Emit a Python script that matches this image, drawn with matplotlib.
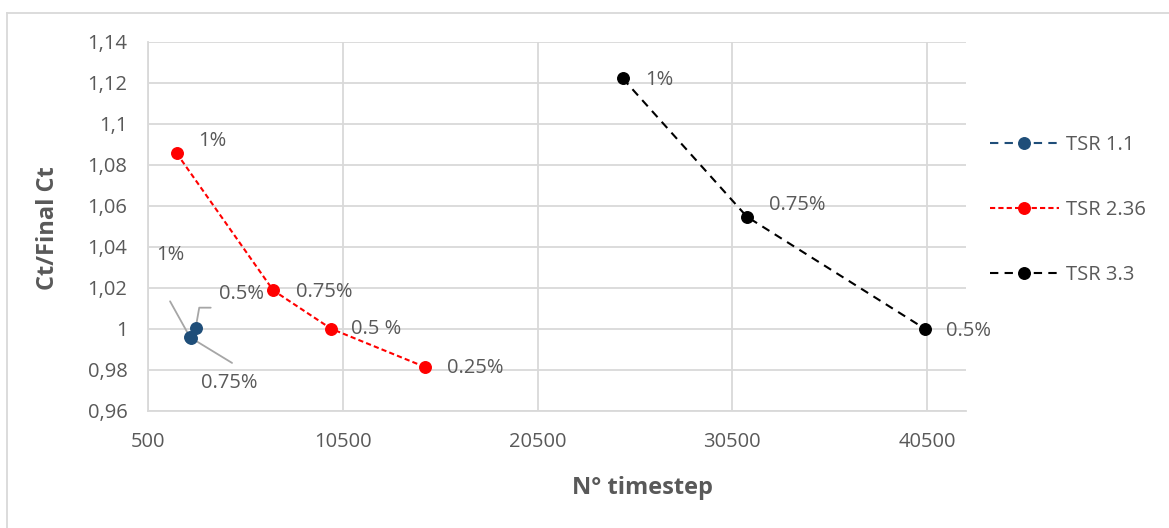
import matplotlib
matplotlib.use("Agg")
import matplotlib.pyplot as plt
from matplotlib.lines import Line2D

# ---- data ----
tsr11_x = [2650, 2700, 2940]
tsr11_y = [0.9958, 0.9955, 1.0005]
tsr11_lbl = ["1%", "0.75%", "0.5%"]

tsr236_x = [1960, 6920, 9890, 14720]
tsr236_y = [1.0856, 1.0187, 1.0, 0.9813]
tsr236_lbl = ["1%", "0.75%", "0.5 %", "0.25%"]

tsr33_x = [24870, 31250, 40380]
tsr33_y = [1.1221, 1.0546, 1.0]
tsr33_lbl = ["1%", "0.75%", "0.5%"]

x_ticks = [500, 10500, 20500, 30500, 40500]
y_ticks = [0.96, 0.98, 1.0, 1.02, 1.04, 1.06, 1.08, 1.10, 1.12, 1.14]
y_tick_labels = ["0,96", "0,98", "1", "1,02", "1,04", "1,06", "1,08", "1,1", "1,12", "1,14"]

FONT = "Open Sans"
TXT = "#595959"
GRID = "#d9d9d9"
FS = 14.5

W, H = 1169, 528
fig = plt.figure(figsize=(W / 100, H / 100), dpi=100)
fig.patch.set_facecolor("white")

# axes in pixel coords
L, R, T, B = 148.2, 966, 41.7, 410.7
ax = fig.add_axes([L / W, 1 - B / H, (R - L) / W, (B - T) / H])

ax.set_xlim(500, 42500)
ax.set_ylim(0.96, 1.14)
ax.set_xticks(x_ticks)
ax.set_xticklabels([str(v) for v in x_ticks], fontfamily=FONT, fontsize=FS, color=TXT)
ax.set_yticks(y_ticks)
ax.set_yticklabels(y_tick_labels, fontfamily=FONT, fontsize=FS, color=TXT)
ax.tick_params(axis="both", length=0)
ax.tick_params(axis="x", pad=15)
ax.tick_params(axis="y", pad=15)
ax.grid(True, color=GRID, linewidth=1.3)
ax.set_axisbelow(True)
for s in ["top", "right"]:
    ax.spines[s].set_visible(False)
for s in ["left", "bottom"]:
    ax.spines[s].set_color(GRID)
    ax.spines[s].set_linewidth(1.3)

ms = 8.3
ax.plot(tsr11_x, tsr11_y, linestyle=(0, (4, 3)), color="#1f4e79", linewidth=1.5,
        marker="o", markersize=ms, label="TSR 1.1", zorder=4)
ax.plot(tsr236_x, tsr236_y, linestyle=(0, (2.5, 1.5)), color="#ff0000", linewidth=1.5,
        marker="o", markersize=ms, label="TSR 2.36", zorder=4)
ax.plot(tsr33_x, tsr33_y, linestyle=(0, (4, 3)), color="black", linewidth=1.5,
        marker="o", markersize=ms, label="TSR 3.3", zorder=4)

lab_kw = dict(textcoords="offset pixels", fontfamily=FONT, fontsize=FS, color=TXT,
              ha="left", va="center")

# TSR 2.36 labels
r_off = [(22, 12), (23, -2), (20, 0), (22, -1)]
for x, y, t, o in zip(tsr236_x, tsr236_y, tsr236_lbl, r_off):
    ax.annotate(t, (x, y), xytext=o, **lab_kw)
# TSR 3.3 labels
b_off = [(22, -2), (22, 12), (21, -2)]
for x, y, t, o in zip(tsr33_x, tsr33_y, tsr33_lbl, b_off):
    ax.annotate(t, (x, y), xytext=o, **lab_kw)

# TSR 1.1 labels with leader lines
gray = "#a6a6a6"
# 1%
ax.annotate(tsr11_lbl[0], (tsr11_x[0], tsr11_y[0]), xytext=(-20, 82), ha="center",
            textcoords="offset pixels", fontfamily=FONT, fontsize=FS, color=TXT, va="center")
ax.annotate("", (tsr11_x[0], tsr11_y[0]), xytext=(-20, 36), textcoords="offset pixels",
            arrowprops=dict(arrowstyle="-", color=gray, lw=1.3, shrinkA=0, shrinkB=0), zorder=3)
# 0.75%
ax.annotate(tsr11_lbl[1], (tsr11_x[1], tsr11_y[1]), xytext=(10, -45), ha="left",
            textcoords="offset pixels", fontfamily=FONT, fontsize=FS, color=TXT, va="center")
ax.annotate("", (tsr11_x[1], tsr11_y[1]), xytext=(41, -25), textcoords="offset pixels",
            arrowprops=dict(arrowstyle="-", color=gray, lw=1.3, shrinkA=0, shrinkB=0), zorder=3)
# 0.5%
ax.annotate(tsr11_lbl[2], (tsr11_x[2], tsr11_y[2]), xytext=(23, 34), ha="left",
            textcoords="offset pixels", fontfamily=FONT, fontsize=FS, color=TXT, va="center")
ax.annotate("", (tsr11_x[2], tsr11_y[2]), xytext=(15, 20), textcoords="offset pixels",
            arrowprops=dict(arrowstyle="-", color=gray, lw=1.3, shrinkA=0, shrinkB=0,
                            connectionstyle="angle,angleA=0,angleB=80,rad=0"), zorder=3)

# axis titles
fig.text(643 / W, 1 - 488 / H, "N° timestep", fontfamily=FONT, fontsize=17,
         fontweight="bold", color=TXT, ha="center", va="center")
fig.text(48 / W, 1 - 228 / H, "Ct/Final Ct", fontfamily=FONT, fontsize=17,
         fontweight="bold", color=TXT, ha="center", va="center", rotation=90)

leg = fig.legend(handles=ax.get_lines(), loc="center left",
                 bbox_to_anchor=(982 / W, 1 - 210 / H), frameon=False,
                 prop=dict(family=FONT, size=FS), labelcolor=TXT,
                 handlelength=3.4, handletextpad=0.38, labelspacing=2.25,
                 borderpad=0.4, borderaxespad=0)

# outer chart border (left and top visible)
fig.add_artist(Line2D([7 / W, 7 / W], [0, 1 - 13 / H], color=GRID, lw=1.3,
                      transform=fig.transFigure))
fig.add_artist(Line2D([7 / W, 1], [1 - 13 / H, 1 - 13 / H], color=GRID, lw=1.3,
                      transform=fig.transFigure))

fig.savefig("out.png", dpi=100)
